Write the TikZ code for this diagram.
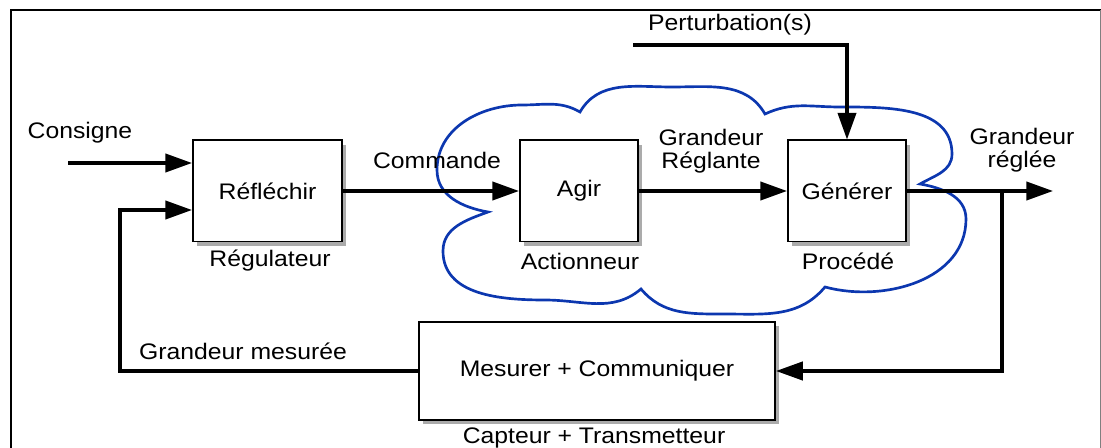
\documentclass[tikz,border=0pt]{standalone}
\usepackage{fontspec}
\setmainfont{Liberation Sans}[FakeStretch=1.1]
\usepackage{tikz}
\usetikzlibrary{calc}
\usetikzlibrary{arrows.meta}
\usetikzlibrary{shadows}

\definecolor{nuage}{RGB}{12,55,175}

\tikzset{
  bloc/.style={draw, line width=1.4pt, fill=white, inner sep=0pt,
    drop shadow={shadow xshift=3pt, shadow yshift=-3pt, opacity=.6, fill=black!55}},
  fleche/.style={line width=2.3pt, -{Triangle[length=19pt,width=13pt]}},
  etiq/.style={align=center, inner sep=0pt},
}

\begin{document}
\begin{tikzpicture}[x=0.025cm, y=0.025cm, font=\fontsize{16}{16.5}\selectfont]
\useasboundingbox (0,0) rectangle (1101,448);

% cadre
\draw[line width=1.6pt] (11,0) -- (11,438) -- (1101,438);
\draw[line width=.4pt, black!50] (1100,438) -- (1100,0);

% nuage
\draw[nuage, line width=1.9pt]
  (488,236) to[out=170,in=270] (437,278) to[out=90,in=180] (522,343) to[out=0,in=150] (580,336)
  to[out=60,in=180] (672,361) to[out=0,in=120] (765,334)
  to[out=25,in=180] (840,341) to[out=0,in=90] (952,294) to[out=270,in=30] (920,264)
  to[out=-10,in=90] (966,229) to[out=270,in=-15] (825,161)
  to[out=230,in=0] (724,134) to[out=180,in=310] (641,159)
  to[out=220,in=0] (545,148) to[out=180,in=270] (443,197) to[out=90,in=200] cycle;

% blocs
\node[bloc, minimum width=3.725cm, minimum height=2.525cm] (refl) at (267.5,257) {Réfléchir};
\node[bloc, minimum width=2.95cm, minimum height=2.525cm] (agir) at (579,257) {Agir};
\node[bloc, minimum width=2.95cm, minimum height=2.525cm] (gen) at (847,257) {Générer};
\node[bloc, minimum width=8.9cm, minimum height=2.45cm] (mes) at (597,77) {Mesurer + Communiquer};

% textes
\node[etiq] (consigne) at (80,315) {Consigne};
\node[etiq] (regul) at (270,187) {Régulateur};
\node[etiq] (commande) at (437,288) {Commande};
\node[etiq] (action) at (580,187) {Actionneur};
\node[etiq] (reglante) at (711,297) {Grandeur\\Réglante};
\node[etiq] (procede) at (848,187) {Procédé};
\node[etiq] (perturb) at (730,423) {Perturbation(s)};
\node[etiq] (reglee) at (1022,298) {Grandeur\\réglée};
\node[etiq] (mesuree) at (243,97) {Grandeur mesurée};
\node[etiq] (capteur) at (594,10) {Capteur + Transmetteur};

% liaisons
\coordinate (cons) at (68,285);
\coordinate (pert) at (633,403);
\coordinate (sortie) at (1053,257);
\coordinate (branche) at (1002,257);
\coordinate (retour) at (120,238);

\draw[fleche] (cons) -- (cons -| refl.west);
\draw[fleche] (refl) -- (agir);
\draw[fleche] (agir) -- (gen);
\draw[fleche] (pert) -| (gen.north);
\draw[fleche] (gen) -- (sortie);
\draw[fleche] (branche) |- (mes.east);
\draw[fleche] (mes.west) -| (retour) -- (retour -| refl.west);

\end{tikzpicture}
\end{document}
